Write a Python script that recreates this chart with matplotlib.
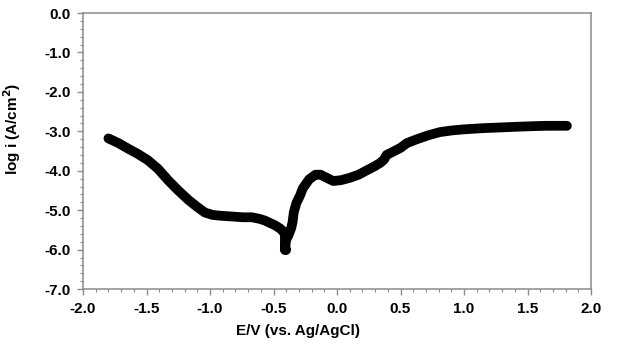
import matplotlib
matplotlib.use('Agg')
import matplotlib.pyplot as plt
from matplotlib.ticker import MultipleLocator

# potential (V vs Ag/AgCl) and log current density
E = [-1.80, -1.72, -1.65, -1.57, -1.49, -1.41, -1.33, -1.25, -1.17, -1.10,
     -1.04, -0.98, -0.92, -0.83, -0.74, -0.67, -0.61, -0.57, -0.53, -0.49,
     -0.45, -0.42, -0.41, -0.41, -0.40, -0.38, -0.36, -0.35, -0.34, -0.32,
     -0.29, -0.27, -0.22, -0.17, -0.13, -0.08, -0.03, 0.03, 0.10, 0.17,
     0.24, 0.30, 0.34, 0.37, 0.39, 0.44, 0.50, 0.55, 0.63, 0.72,
     0.81, 0.90, 1.00, 1.15, 1.30, 1.45, 1.54, 1.65, 1.81]
log_i = [-3.18, -3.30, -3.43, -3.57, -3.73, -3.95, -4.24, -4.50, -4.74, -4.92,
         -5.06, -5.12, -5.14, -5.16, -5.18, -5.18, -5.22, -5.26, -5.32, -5.38,
         -5.46, -5.55, -5.62, -5.99, -5.75, -5.62, -5.45, -5.30, -5.05, -4.82,
         -4.62, -4.45, -4.22, -4.10, -4.10, -4.18, -4.26, -4.24, -4.18, -4.10,
         -3.98, -3.88, -3.80, -3.72, -3.60, -3.52, -3.42, -3.30, -3.20, -3.10,
         -3.02, -2.98, -2.95, -2.92, -2.90, -2.88, -2.87, -2.86, -2.86]

plt.rcParams['font.family'] = ['Liberation Sans', 'DejaVu Sans']
plt.rcParams['font.weight'] = 'bold'

fig = plt.figure(figsize=(6.25, 3.47), dpi=100)
ax = fig.add_axes([0.1328, 0.167, 0.8128, 0.7955])

# thick line + a few dots, the original trace is densely packed markers
ax.plot(E, log_i, color='black', lw=7, solid_capstyle='round',
        solid_joinstyle='round')
ax.plot(E[22:24], log_i[22:24], 'o', color='black', ms=7)

ax.set_xlim(-2.0, 2.0)
ax.set_ylim(-7.0, 0.0)
ax.xaxis.set_major_locator(MultipleLocator(0.5))
ax.xaxis.set_minor_locator(MultipleLocator(0.1))
ax.yaxis.set_major_locator(MultipleLocator(1.0))
ax.yaxis.set_minor_locator(MultipleLocator(0.2))
ax.xaxis.set_major_formatter(plt.FormatStrFormatter('%.1f'))
ax.yaxis.set_major_formatter(plt.FormatStrFormatter('%.1f'))

for s in ax.spines.values():
    s.set_color('#8a8a8a')
    s.set_linewidth(1.1)
ax.tick_params(which='major', direction='out', length=4, width=1, color='#8a8a8a',
               labelsize=11, pad=5)
ax.tick_params(which='minor', direction='out', length=2.5, width=0.8, color='#8a8a8a')
for lab in ax.get_xticklabels() + ax.get_yticklabels():
    lab.set_fontweight('bold')

ax.set_xlabel('E/V (vs. Ag/AgCl)', fontsize=11, fontweight='bold')
ax.set_ylabel('log i (A/cm$^\\mathbf{2}$)', fontsize=11, fontweight='bold')
ax.xaxis.set_label_coords(0.423, -0.125)
ax.yaxis.set_label_coords(-0.118, 0.58)

fig.savefig('out.png', dpi=100)
